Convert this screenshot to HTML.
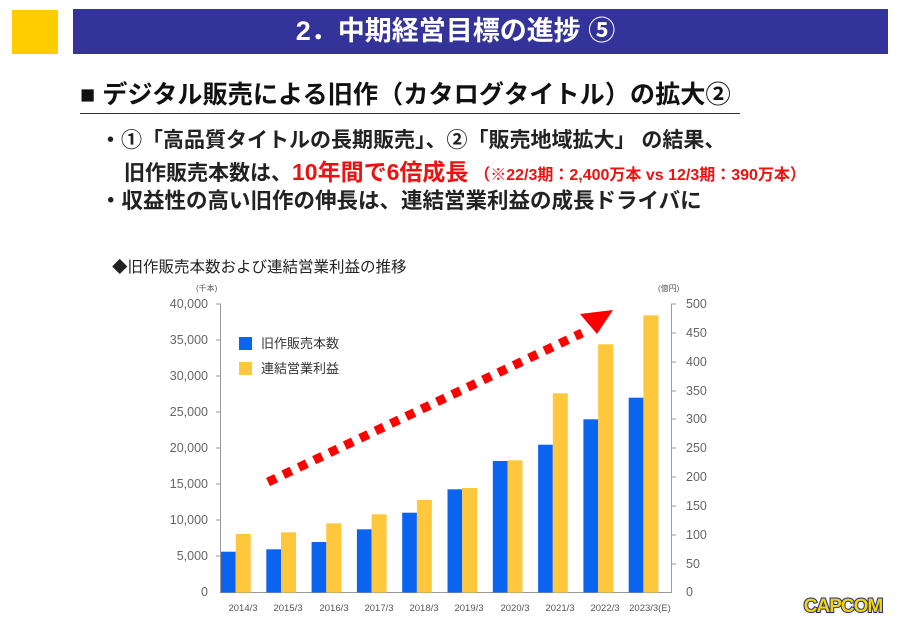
<!DOCTYPE html>
<html><head><meta charset="utf-8"><style>
body{margin:0;width:900px;height:622px;background:#fff;overflow:hidden;font-family:"Liberation Sans","Noto Sans CJK JP",sans-serif;position:relative}
.a{position:absolute;white-space:nowrap}
</style></head><body>
<div class="a" style="left:12px;top:10px;width:46px;height:44px;background:#ffcc00"></div>
<div class="a" style="left:73px;top:9px;width:765px;padding-right:50px;height:45px;background:#333399;color:#fff;font-weight:bold;font-size:27px;line-height:45px;text-align:center">2．中期経営目標の進捗 ⑤</div>
<div class="a" style="left:80px;top:75px;font-size:25.2px;font-weight:bold;color:#111;border-bottom:1.5px solid #333;padding-bottom:2px;width:660px">■ デジタル販売による旧作（カタログタイトル）の拡大②</div>
<div class="a" style="left:100px;top:124px;font-size:21px;font-weight:bold;color:#222">・①「高品質タイトルの長期販売」、②「販売地域拡大」 の結果、</div>
<div class="a" style="left:124px;top:153px;font-size:21px;font-weight:bold;color:#222">旧作販売本数は、<span style="color:#ee1111;font-size:23px">10年間で6倍成長</span> <span style="color:#ee1111;font-size:16px">（※22/3期：2,400万本 vs 12/3期：390万本）</span></div>
<div class="a" style="left:100px;top:184px;font-size:21.5px;font-weight:bold;color:#222">・収益性の高い旧作の伸長は、連結営業利益の成長ドライバに</div>
<div class="a" style="left:112px;top:255px;font-size:15.5px;color:#222">◆旧作販売本数および連結営業利益の推移</div>
<svg class="a" style="left:0;top:0" width="900" height="622">
<g font-family="Liberation Sans,sans-serif" font-size="12.5" fill="#666">
<text x="196" y="291" font-size="8" fill="#555">(千本)</text>
<text x="658" y="291" font-size="8" fill="#555">(億円)</text>
<g text-anchor="end">
<text x="208" y="596">0</text><text x="208" y="560">5,000</text><text x="208" y="524">10,000</text><text x="208" y="488">15,000</text><text x="208" y="452">20,000</text><text x="208" y="416">25,000</text><text x="208" y="380">30,000</text><text x="208" y="344">35,000</text><text x="208" y="308">40,000</text>
</g>
<g text-anchor="start">
<text x="686" y="596">0</text><text x="686" y="568">50</text><text x="686" y="539">100</text><text x="686" y="510">150</text><text x="686" y="481">200</text><text x="686" y="452">250</text><text x="686" y="423">300</text><text x="686" y="395">350</text><text x="686" y="366">400</text><text x="686" y="337">450</text><text x="686" y="308">500</text>
</g>
<g font-size="9.5" text-anchor="middle" fill="#555">
<text x="243" y="611">2014/3</text><text x="288" y="611">2015/3</text><text x="334" y="611">2016/3</text><text x="379" y="611">2017/3</text><text x="424" y="611">2018/3</text><text x="469" y="611">2019/3</text><text x="515" y="611">2020/3</text><text x="560" y="611">2021/3</text><text x="605" y="611">2022/3</text><text x="650" y="611">2023/3(E)</text>
</g>
</g>
<g stroke="#999" stroke-width="1" fill="none">
<path d="M220.5 303.5V592.5H671.5V303.5"/>
<path d="M216 304h5M216 340h5M216 376h5M216 412h5M216 448h5M216 484h5M216 520h5M216 556h5M671 304h5M671 333h5M671 362h5M671 391h5M671 419h5M671 448h5M671 477h5M671 506h5M671 535h5M671 564h5"/>
</g>
<g fill="#0a64f0">
<rect x="221" y="551.7" width="14.7" height="40.8"/>
<rect x="266.3" y="549.3" width="14.7" height="43.2"/>
<rect x="311.6" y="542" width="14.7" height="50.5"/>
<rect x="356.9" y="529.3" width="14.7" height="63.2"/>
<rect x="402.2" y="512.7" width="14.7" height="79.8"/>
<rect x="447.5" y="489.3" width="14.7" height="103.2"/>
<rect x="492.8" y="461" width="14.7" height="131.5"/>
<rect x="538.1" y="444.7" width="14.7" height="147.8"/>
<rect x="583.4" y="419.3" width="14.7" height="173.2"/>
<rect x="628.7" y="397.7" width="14.7" height="194.8"/>
</g>
<g fill="#ffc83c">
<rect x="235.7" y="534" width="15" height="58.5"/>
<rect x="281" y="532.3" width="15" height="60.2"/>
<rect x="326.3" y="523.3" width="15" height="69.2"/>
<rect x="371.6" y="514.3" width="15" height="78.2"/>
<rect x="416.9" y="500" width="15" height="92.5"/>
<rect x="462.2" y="488" width="15" height="104.5"/>
<rect x="507.5" y="460.3" width="15" height="132.2"/>
<rect x="552.8" y="393.3" width="15" height="199.2"/>
<rect x="598.1" y="344.3" width="15" height="248.2"/>
<rect x="643.4" y="315.3" width="15" height="277.2"/>
</g>
<rect x="239" y="337" width="13" height="13" fill="#0a64f0"/>
<rect x="239" y="362" width="13" height="13" fill="#ffc83c"/>
<text x="261" y="348" font-size="13" fill="#333" font-family="Liberation Sans,Noto Sans CJK JP,sans-serif">旧作販売本数</text>
<text x="261" y="373" font-size="13" fill="#333" font-family="Liberation Sans,Noto Sans CJK JP,sans-serif">連結営業利益</text>
<line x1="268" y1="482" x2="582" y2="333" stroke="#ff0000" stroke-width="9" stroke-dasharray="9 8"/>
<polygon points="613,310 580,314 597,334" fill="#ff0000"/>
<text x="843" y="612" text-anchor="middle" font-family="Liberation Sans,sans-serif" font-weight="bold" font-size="19" fill="#f5d400" stroke="#1a2a8a" stroke-width="2" paint-order="stroke" letter-spacing="-1">CAPCOM</text>
</svg>
</body></html>
